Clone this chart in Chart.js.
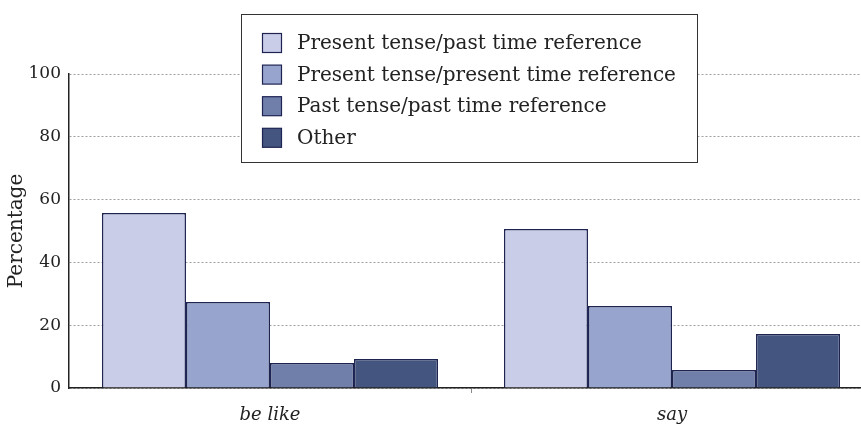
<!DOCTYPE html>
<html>
<head>
<meta charset="utf-8">
<script src="https://cdn.jsdelivr.net/npm/chart.js@4"></script>
<style>
  body { margin: 0; background: #fff; overflow: hidden; }
  #wrap { width: 861px; height: 427px; overflow: hidden; }
</style>
</head>
<body>
<div id="wrap"><canvas id="myChart" width="880" height="427"></canvas></div>
<script>
const categories = ['be like', 'say'];
const presentPast = [55.7, 50.6];
const presentPresent = [27.4, 26.1];
const pastPast = [8.0, 5.7];
const other = [9.2, 17.2];
const yTicks = [0, 20, 40, 60, 80, 100];

const serif = '"DejaVu Serif", "Liberation Serif", serif';
const edge = '#1e2452';

// legend drawn as a framed box over the plot, like the original
const boxLegend = {
  id: 'boxLegend',
  afterDraw(chart) {
    const ctx = chart.ctx;
    ctx.save();
    ctx.fillStyle = '#fff';
    ctx.fillRect(241.5, 14.5, 456, 148);
    ctx.strokeStyle = '#333';
    ctx.lineWidth = 1;
    ctx.strokeRect(241.5, 14.5, 456, 148);
    ctx.font = '20px ' + serif;
    ctx.textBaseline = 'middle';
    chart.data.datasets.forEach((ds, i) => {
      const y = 43 + i * 31.6;
      ctx.fillStyle = ds.backgroundColor;
      ctx.fillRect(262.5, y - 9.5, 19, 19);
      ctx.strokeStyle = edge;
      ctx.lineWidth = 1.2;
      ctx.strokeRect(262.5, y - 9.5, 19, 19);
      ctx.fillStyle = '#222';
      ctx.fillText(ds.label, 297, y + 1);
    });
    ctx.restore();
  }
};

const data = {
  labels: categories,
  datasets: [
    { label: 'Present tense/past time reference', data: presentPast, backgroundColor: '#c9cde8' },
    { label: 'Present tense/present time reference', data: presentPresent, backgroundColor: '#97a5ce' },
    { label: 'Past tense/past time reference', data: pastPast, backgroundColor: '#707eaa' },
    { label: 'Other', data: other, backgroundColor: '#44557f' }
  ].map(d => Object.assign(d, { borderColor: edge, borderWidth: 1.5, barPercentage: 1, categoryPercentage: 0.836 }))
};

const config = {
  type: 'bar',
  data: data,
  options: {
    responsive: false,
    animation: false,
    layout: { padding: { top: 74, right: 7, left: 0, bottom: 0 } },
    plugins: { legend: { display: false }, tooltip: { enabled: false } },
    scales: {
      x: {
        grid: {
          drawOnChartArea: false, drawTicks: true, tickLength: 5,
          color: ctx => ctx.index === 1 ? '#888' : 'rgba(0,0,0,0)'
        },
        border: { display: true, color: '#222', width: 1.5 },
        ticks: { color: '#222', padding: 12, font: { family: serif, size: 18, style: 'italic' } },
        afterFit(s) { s.height = 39; }
      },
      y: {
        min: 0,
        max: 100,
        afterBuildTicks(s) { s.ticks = yTicks.map(v => ({ value: v })); },
        grid: { color: '#a0a0a0', drawTicks: false },
        border: { display: true, color: '#222', width: 1.5, dash: [2, 2] },
        ticks: { color: '#222', padding: 8, font: { family: serif, size: 17 } },
        title: { display: true, text: 'Percentage', color: '#222', padding: { top: 5, bottom: 0 }, font: { family: serif, size: 20 } },
        afterFit(s) { s.width = 69; }
      }
    }
  },
  plugins: [boxLegend]
};

var myChart = new Chart(document.getElementById('myChart'), config);
</script>
</body>
</html>
